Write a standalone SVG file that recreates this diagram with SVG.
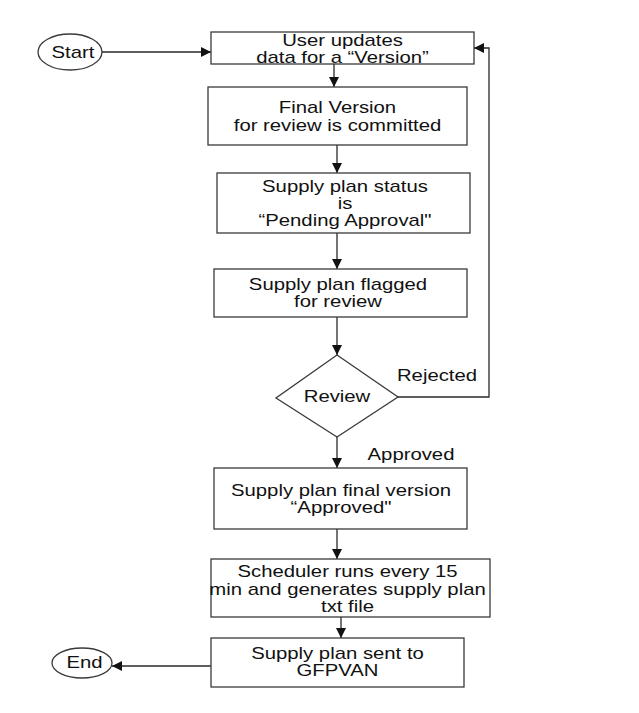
<svg xmlns="http://www.w3.org/2000/svg" width="639" height="713" viewBox="0 0 639 713">
<defs>
<style>
.shape{fill:#fff;stroke:#3a3a3a;stroke-width:1.3}
.conn{fill:none;stroke:#2a2a2a;stroke-width:1.3}
text{font-family:"Liberation Sans",Arial,sans-serif;font-size:16px;fill:#111;text-anchor:middle}
</style>
<marker id="ah" viewBox="0 0 10 10" refX="10" refY="5" markerWidth="10" markerHeight="10" markerUnits="userSpaceOnUse" orient="auto">
<path d="M0,0 L10,5 L0,10 z" fill="#111"/>
</marker>
</defs>
<rect width="639" height="713" fill="#fff"/>
<g id="connectors">
<path class="conn" d="M102,52 H211" marker-end="url(#ah)"/>
<path class="conn" d="M334,64 V87" marker-end="url(#ah)"/>
<path class="conn" d="M337,145 V173" marker-end="url(#ah)"/>
<path class="conn" d="M337,233 V269" marker-end="url(#ah)"/>
<path class="conn" d="M337,317 V355" marker-end="url(#ah)"/>
<path class="conn" d="M398,397 H489 V48 H474" marker-end="url(#ah)"/>
<path class="conn" d="M337,437 V468" marker-end="url(#ah)"/>
<path class="conn" d="M337,529 V559" marker-end="url(#ah)"/>
<path class="conn" d="M341,617 V638" marker-end="url(#ah)"/>
<path class="conn" d="M211,666 H112" marker-end="url(#ah)"/>
<g transform="translate(437,381) scale(1.27,1)"><text x="0" y="0">Rejected</text></g>
<g transform="translate(411,460) scale(1.27,1)"><text x="0" y="0">Approved</text></g>
</g>
<g id="start">
<ellipse class="shape" cx="70" cy="52" rx="32" ry="18"/>
<g transform="translate(73,58) scale(1.27,1)"><text x="0" y="0">Start</text></g>
</g>
<g id="user-updates">
<rect class="shape" x="211" y="32" width="263" height="32"/>
<g transform="translate(342.5,0) scale(1.27,1)"><text x="0" y="46">User updates</text><text x="0" y="63">data for a “Version”</text></g>
</g>
<g id="final-version">
<rect class="shape" x="208" y="87" width="259" height="58"/>
<g transform="translate(337.5,0) scale(1.27,1)"><text x="0" y="113">Final Version</text><text x="0" y="131">for review is committed</text></g>
</g>
<g id="pending-approval">
<rect class="shape" x="217" y="173" width="253" height="60"/>
<g transform="translate(345,0) scale(1.27,1)"><text x="0" y="192">Supply plan status</text><text x="0" y="209">is</text><text x="0" y="226">“Pending Approval"</text></g>
</g>
<g id="flagged">
<rect class="shape" x="214" y="269" width="253" height="48"/>
<g transform="translate(338,0) scale(1.27,1)"><text x="0" y="290">Supply plan flagged</text><text x="0" y="307">for review</text></g>
</g>
<g id="review">
<polygon class="shape" points="337,355 398,397 337,437 276,398"/>
<g transform="translate(337,402) scale(1.27,1)"><text x="0" y="0">Review</text></g>
</g>
<g id="approved">
<rect class="shape" x="214" y="468" width="253" height="61"/>
<g transform="translate(341,0) scale(1.27,1)"><text x="0" y="496">Supply plan final version</text><text x="0" y="513">“Approved"</text></g>
</g>
<g id="scheduler">
<rect class="shape" x="211" y="559" width="279" height="58"/>
<g transform="translate(347.5,0) scale(1.27,1)"><text x="0" y="577">Scheduler runs every 15</text><text x="0" y="595">min and generates supply plan</text><text x="0" y="612">txt file</text></g>
</g>
<g id="sent">
<rect class="shape" x="211" y="638" width="253" height="49"/>
<g transform="translate(337.5,0) scale(1.27,1)"><text x="0" y="659">Supply plan sent to</text><text x="0" y="676">GFPVAN</text></g>
</g>
<g id="end">
<ellipse class="shape" cx="82" cy="663" rx="30" ry="15"/>
<g transform="translate(84.5,668) scale(1.27,1)"><text x="0" y="0">End</text></g>
</g>
</svg>
